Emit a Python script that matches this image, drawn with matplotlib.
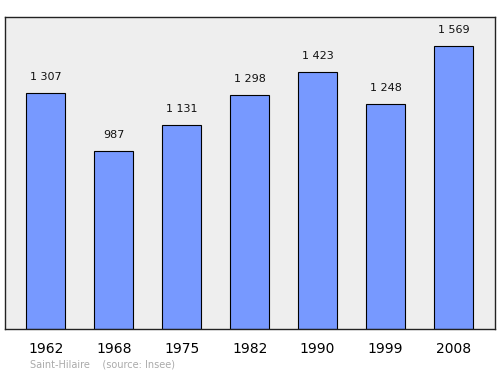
import matplotlib

matplotlib.use("Agg")
import matplotlib.pyplot as plt

years = ["1962", "1968", "1975", "1982", "1990", "1999", "2008"]
population = [1307, 987, 1131, 1298, 1423, 1248, 1569]
labels = ["1 307", "987", "1 131", "1 298", "1 423", "1 248", "1 569"]

fig = plt.figure(figsize=(5, 3.74), dpi=100)
ax = fig.add_axes([0.01, 0.1203, 0.98, 0.8342])
ax.set_facecolor("#eeeeee")

x = range(len(years))
ax.bar(x, population, width=0.57, color="#7799ff", edgecolor="black", linewidth=0.8)
for i, (v, t) in enumerate(zip(population, labels)):
    ax.annotate(t, (i, v), xytext=(0, 8), textcoords="offset points",
                ha="center", va="bottom", fontsize=8, color="#111111")

ax.set_xlim(-0.6, 6.61)
ax.set_ylim(0, 1728)
ax.set_yticks([])
ax.set_xticks(list(x))
ax.set_xticklabels(years, fontsize=10)
ax.tick_params(axis="x", length=0, pad=9)
for s in ax.spines.values():
    s.set_linewidth(1.0)
    s.set_edgecolor("#222222")

fig.text(0.06, 0.017, "Saint-Hilaire    (source: Insee)", fontsize=7, color="#aaaaaa")

fig.savefig("out.png", dpi=100)
